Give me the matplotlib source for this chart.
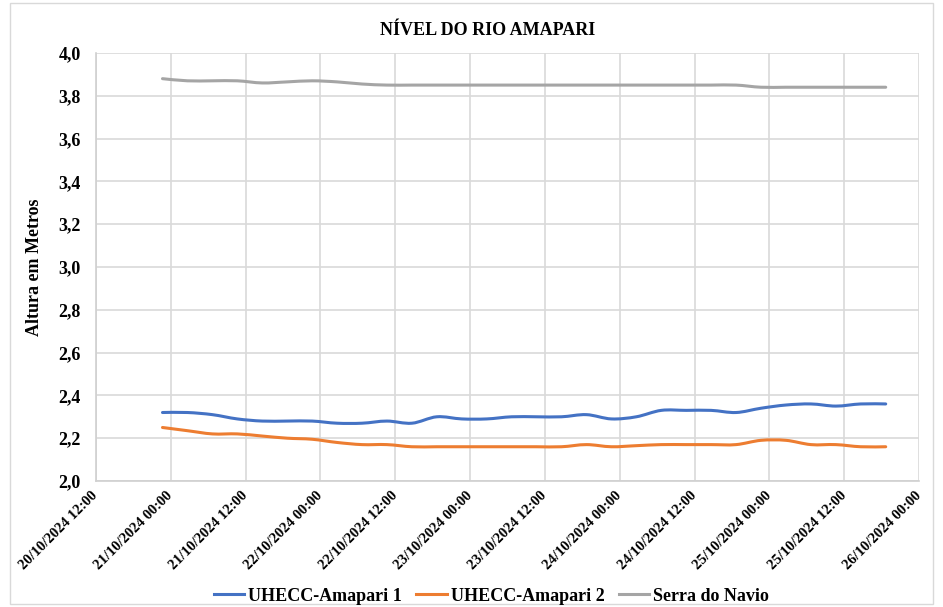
import numpy as np
import pandas as pd
import matplotlib
matplotlib.use('Agg')
import matplotlib.pyplot as plt
import matplotlib.dates as mdates
from matplotlib.path import Path
from matplotlib.patches import PathPatch, Rectangle
from matplotlib.lines import Line2D
from matplotlib.ticker import FuncFormatter, MultipleLocator

# leituras a cada 4 horas
horarios = pd.date_range('2024-10-20 22:40', '2024-10-25 18:40', periods=30)

amapari1 = [2.32, 2.32, 2.31, 2.29, 2.28, 2.28, 2.28, 2.27, 2.27, 2.28,
            2.27, 2.30, 2.29, 2.29, 2.30, 2.30, 2.30, 2.31, 2.29, 2.30,
            2.33, 2.33, 2.33, 2.32, 2.34, 2.355, 2.36, 2.35, 2.36, 2.36]
amapari2 = [2.25, 2.235, 2.22, 2.22, 2.21, 2.20, 2.195, 2.18, 2.17, 2.17,
            2.16, 2.16, 2.16, 2.16, 2.16, 2.16, 2.16, 2.17, 2.16, 2.165,
            2.17, 2.17, 2.17, 2.17, 2.19, 2.19, 2.17, 2.17, 2.16, 2.16]
serra_navio = [3.88, 3.87, 3.87, 3.87, 3.86, 3.865, 3.87, 3.865, 3.855, 3.85,
               3.85, 3.85, 3.85, 3.85, 3.85, 3.85, 3.85, 3.85, 3.85, 3.85,
               3.85, 3.85, 3.85, 3.85, 3.84, 3.84, 3.84, 3.84, 3.84, 3.84]

series = [('UHECC-Amapari 1', amapari1, '#4472C4'),
          ('UHECC-Amapari 2', amapari2, '#ED7D31'),
          ('Serra do Navio', serra_navio, '#A5A5A5')]

plt.rcParams['font.family'] = ['Liberation Serif', 'DejaVu Serif']
plt.rcParams['font.weight'] = 'bold'


# linha suavizada (estilo Excel) feita com curvas de Bezier
def curva_suave(x, y):
    pts = np.column_stack([x, y])
    n = len(pts)
    verts = [pts[0]]
    codes = [Path.MOVETO]
    for i in range(n - 1):
        p0 = pts[i - 1] if i > 0 else pts[i]
        p1 = pts[i]
        p2 = pts[i + 1]
        p3 = pts[i + 2] if i + 2 < n else pts[i + 1]
        verts += [p1 + (p2 - p0) / 6, p2 - (p3 - p1) / 6, p2]
        codes += [Path.CURVE4] * 3
    return Path(verts, codes)


fig = plt.figure(figsize=(9.43, 6.07), dpi=100)
ax = fig.add_axes([0.1018, 0.2076, 0.8727, 0.7051])

xnum = mdates.date2num(horarios)
handles = []
for nome, valores, cor in series:
    ax.add_patch(PathPatch(curva_suave(xnum, valores), fill=False,
                           edgecolor=cor, linewidth=2.2, capstyle='round', zorder=3))
    handles.append(Line2D([], [], color=cor, linewidth=2.2, label=nome))

ax.set_xlim(pd.Timestamp('2024-10-20 12:00'), pd.Timestamp('2024-10-26 00:00'))
ax.set_ylim(2.0, 4.0)
ax.yaxis.set_major_locator(MultipleLocator(0.2))
ax.yaxis.set_major_formatter(FuncFormatter(lambda v, p: f'{v:.1f}'.replace('.', ',')))
ax.xaxis.set_major_locator(mdates.HourLocator(byhour=[0, 12]))
ax.xaxis.set_major_formatter(mdates.DateFormatter('%d/%m/%Y %H:%M'))

ax.grid(True, color='#d9d9d9', linewidth=1.2)
ax.set_axisbelow(True)
for s in ['top', 'right']:
    ax.spines[s].set_visible(False)
for s in ['left', 'bottom']:
    ax.spines[s].set_color('#d0d0d0')
    ax.spines[s].set_linewidth(1.2)

ax.tick_params(axis='y', length=0, pad=11, labelsize=13)
ax.tick_params(axis='x', length=0, pad=9, labelsize=10.5)
for lbl in ax.get_xticklabels():
    lbl.set_rotation(45)
    lbl.set_ha('right')
    lbl.set_va('center')
    lbl.set_rotation_mode('anchor')

fig.text(0.517, 0.949, 'NÍVEL DO RIO AMAPARI', ha='center', va='center',
         fontsize=13, fontweight='bold')
fig.text(0.037, 0.56, 'Altura em Metros', rotation=90, ha='center', va='center',
         fontsize=13, fontweight='bold')

fig.legend(handles=handles, loc='center', bbox_to_anchor=(0.521, 0.018), ncol=3,
           frameon=False, fontsize=13, handlelength=1.7, handletextpad=0.2,
           columnspacing=0.8)

# borda da área do gráfico
fig.patches.append(Rectangle((10 / 943, 3 / 607), 923 / 943, 601 / 607,
                             transform=fig.transFigure, fill=False,
                             edgecolor='#d9d9d9', linewidth=1))

fig.savefig('out.png', dpi=100)
